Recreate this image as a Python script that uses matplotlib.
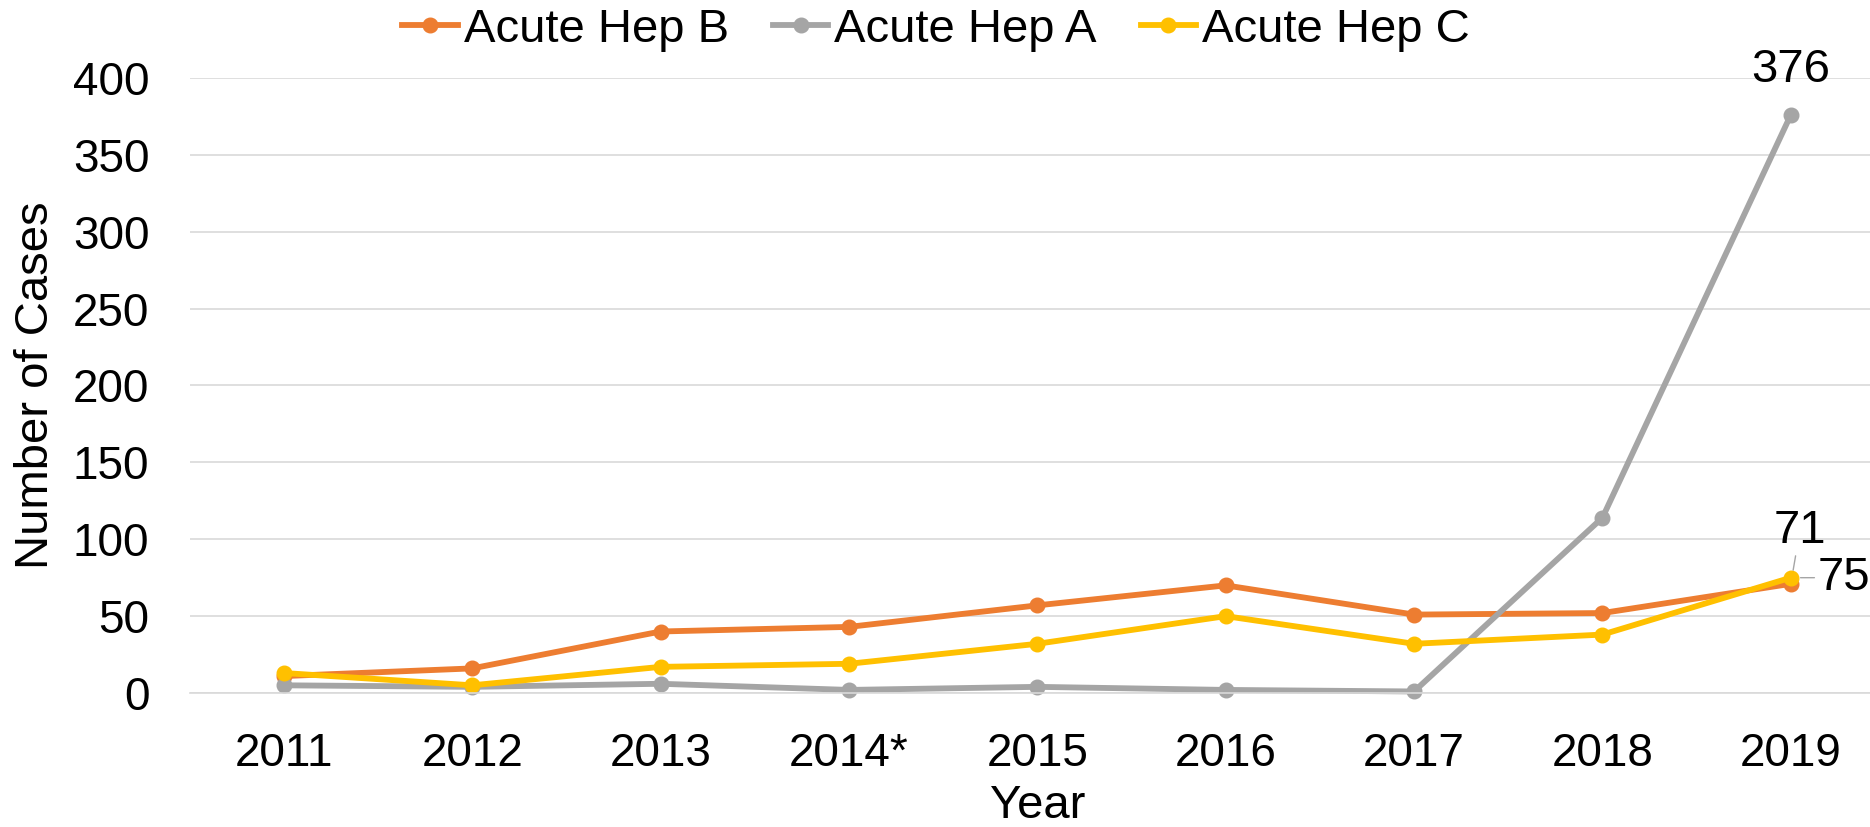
#!/usr/bin/env python3
"""Acute hepatitis A/B/C case counts by year, 2011-2019."""

import matplotlib

matplotlib.use("Agg")
import matplotlib.pyplot as plt

YEARS = ["2011", "2012", "2013", "2014*", "2015", "2016", "2017", "2018", "2019"]
HEP_B = [11, 16, 40, 43, 57, 70, 51, 52, 71]
HEP_A = [5, 4, 6, 2, 4, 2, 1, 114, 376]
HEP_C = [13, 5, 17, 19, 32, 50, 32, 38, 75]

SERIES = [
    ("Acute Hep B", HEP_B, "#ED7D31"),
    ("Acute Hep A", HEP_A, "#A5A5A5"),
    ("Acute Hep C", HEP_C, "#FFC000"),
]

plt.rcParams["font.family"] = ["Liberation Sans", "DejaVu Sans"]
FS = 34
TICK_FS = 33

W, H = 1870, 827
AX_L, AX_R, AX_T, AX_B = 189.6, 1885, 78, 693

fig = plt.figure(figsize=(W / 100, H / 100), dpi=100)
ax = fig.add_axes([AX_L / W, 1 - AX_B / H, (AX_R - AX_L) / W, (AX_B - AX_T) / H])

x = list(range(len(YEARS)))
lines = []
for label, values, color in SERIES:
    (ln,) = ax.plot(x, values, color=color, lw=4.2, marker="o", ms=10.5,
                    label=label, solid_joinstyle="round", clip_on=False)
    lines.append(ln)

ax.set_xlim(-0.5, len(YEARS) - 0.5)
ax.set_ylim(0, 400)
ax.set_yticks(range(0, 401, 50))
ax.set_xticks(x)
ax.set_xticklabels(YEARS)
ax.tick_params(axis="both", length=0, labelsize=TICK_FS)
ax.tick_params(axis="y", pad=29)
ax.tick_params(axis="x", pad=28)
ax.grid(axis="y", color="#D9D9D9", lw=1.2)
ax.set_axisbelow(True)
for side in ("top", "right", "left"):
    ax.spines[side].set_visible(False)
ax.spines["bottom"].set_color("#D9D9D9")
ax.spines["bottom"].set_linewidth(1.2)

# end-of-series data labels
last = len(YEARS) - 1
ax.annotate(str(HEP_A[-1]), (last, HEP_A[-1]), xytext=(0, 32),
            textcoords="offset points", ha="center", va="center", fontsize=FS)
ax.annotate(str(HEP_B[-1]), (last, HEP_B[-1]), xytext=(6.5, 38),
            textcoords="offset points", ha="center", va="center", fontsize=FS,
            arrowprops=dict(arrowstyle="-", color="#A5A5A5", lw=1, shrinkA=0, shrinkB=10))
ax.annotate(str(HEP_C[-1]), (last, HEP_C[-1]), xytext=(19, 0),
            textcoords="offset points", ha="left", va="center", fontsize=FS,
            arrowprops=dict(arrowstyle="-", color="#A5A5A5", lw=1, shrinkA=0, shrinkB=7),
            annotation_clip=False)

fig.text(36 / W, 1 - (AX_T + AX_B) / 2 / H, "Number of Cases", rotation=90,
         ha="center", va="center", fontsize=FS)
fig.text((AX_L + AX_R) / 2 / W, 1 - 806 / H, "Year", ha="center", va="center", fontsize=FS)

fig.legend(handles=lines, loc="center", bbox_to_anchor=(936 / W, 1 - 30 / H),
           ncol=3, frameon=False, fontsize=FS, handlelength=1.18,
           handletextpad=0.12, columnspacing=0.93, borderaxespad=0, borderpad=0)

fig.savefig("out.png", dpi=100)
plt.close(fig)
